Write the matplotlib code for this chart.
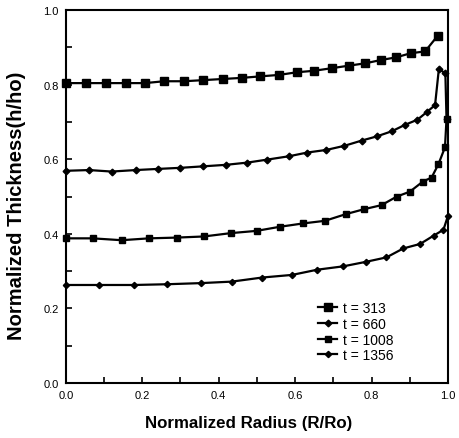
import matplotlib

matplotlib.use("Agg")
import matplotlib.pyplot as plt
from matplotlib.ticker import MultipleLocator

# t = 313
r_313 = [0.0, 0.052, 0.105, 0.157, 0.207, 0.257, 0.309, 0.36, 0.41, 0.46, 0.508,
         0.558, 0.604, 0.649, 0.696, 0.742, 0.783, 0.825, 0.864, 0.902, 0.94, 0.973]
h_313 = [0.804, 0.804, 0.804, 0.804, 0.804, 0.809, 0.809, 0.812, 0.815, 0.818, 0.822,
         0.826, 0.833, 0.837, 0.844, 0.851, 0.857, 0.866, 0.873, 0.884, 0.889, 0.931]

# t = 660
r_660 = [0.0, 0.061, 0.12, 0.183, 0.24, 0.3, 0.36, 0.419, 0.475, 0.527, 0.584, 0.632,
         0.682, 0.729, 0.774, 0.813, 0.853, 0.887, 0.92, 0.944, 0.966, 0.976, 0.993, 0.996]
h_660 = [0.569, 0.571, 0.567, 0.571, 0.574, 0.577, 0.581, 0.585, 0.591, 0.599, 0.608, 0.618,
         0.625, 0.636, 0.65, 0.661, 0.675, 0.692, 0.706, 0.726, 0.745, 0.842, 0.83, 0.708]

# t = 1008
r_1008 = [0.0, 0.07, 0.146, 0.218, 0.29, 0.361, 0.432, 0.499, 0.56, 0.621, 0.678,
          0.733, 0.78, 0.826, 0.866, 0.9, 0.934, 0.957, 0.975, 0.992, 0.996]
h_1008 = [0.388, 0.388, 0.383, 0.388, 0.39, 0.393, 0.402, 0.408, 0.419, 0.428, 0.435,
          0.453, 0.466, 0.477, 0.5, 0.513, 0.54, 0.551, 0.587, 0.632, 0.708]

# t = 1356
r_1356 = [0.0, 0.087, 0.178, 0.265, 0.353, 0.434, 0.514, 0.592, 0.658, 0.726, 0.785,
          0.839, 0.883, 0.927, 0.962, 0.988, 1.0]
h_1356 = [0.263, 0.263, 0.263, 0.265, 0.268, 0.272, 0.283, 0.29, 0.304, 0.313, 0.325,
          0.337, 0.361, 0.373, 0.395, 0.411, 0.449]

series = [
    ("t = 313", r_313, h_313, "s", 5.2),
    ("t = 660", r_660, h_660, "D", 3.4),
    ("t = 1008", r_1008, h_1008, "s", 4.8),
    ("t = 1356", r_1356, h_1356, "D", 3.2),
]

plt.rcParams["font.family"] = ["Liberation Sans", "DejaVu Sans"]

fig = plt.figure(figsize=(4.6, 4.39), dpi=100)
axis = fig.add_axes([0.143, 0.125, 0.831, 0.85])

for label, r, h, marker, size in series:
    axis.plot(r, h, color="black", linewidth=1.6, marker=marker, markersize=size,
              label=label, clip_on=False)

axis.set_xlim(0.0, 1.0)
axis.set_ylim(0.0, 1.0)
axis.xaxis.set_major_locator(MultipleLocator(0.2))
axis.yaxis.set_major_locator(MultipleLocator(0.2))
axis.xaxis.set_minor_locator(MultipleLocator(0.1))
axis.yaxis.set_minor_locator(MultipleLocator(0.1))
axis.xaxis.set_major_formatter(lambda v, _: f"{v:.1f}")
axis.yaxis.set_major_formatter(lambda v, _: f"{v:.1f}")
axis.tick_params(which="both", direction="in", length=4, width=1.2, labelsize=8, pad=5)
for spine in axis.spines.values():
    spine.set_linewidth(1.5)

axis.set_xlabel("Normalized Radius (R/Ro)", fontsize=12.2, fontweight="bold")
axis.set_ylabel("Normalized Thickness(h/ho)", fontsize=14.5, fontweight="bold")
axis.xaxis.set_label_coords(0.479, -0.085)
axis.yaxis.set_label_coords(-0.105, 0.477)

axis.legend(loc="lower right", bbox_to_anchor=(0.884, 0.03), frameon=False, fontsize=10,
            handlelength=1.3, labelspacing=0.12, handletextpad=0.5, borderpad=0.2)

fig.savefig("out.png", dpi=100)
plt.close(fig)
